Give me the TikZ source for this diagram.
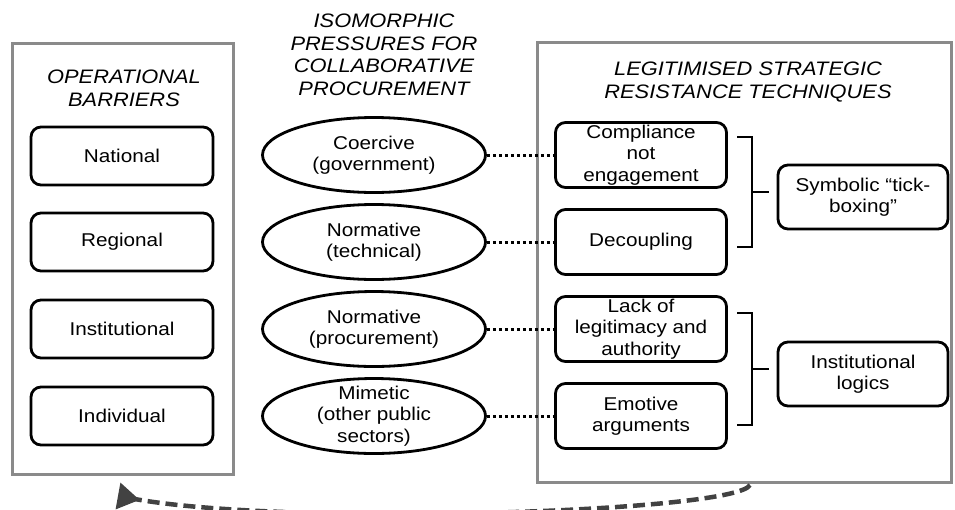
\documentclass[tikz,border=0pt]{standalone}
\usepackage{fontspec}
\setmainfont[FakeStretch=1.12]{Liberation Sans}
\usepackage{tikz}
\usetikzlibrary{arrows.meta,shapes.geometric}
\definecolor{framegray}{RGB}{138,138,138}
\definecolor{loopgray}{RGB}{66,66,66}

\tikzset{
  frame/.style={draw=framegray,line width=3pt,inner sep=0pt},
  heading/.style={anchor=north,inner sep=0pt,align=center,font=\fontsize{19.5}{22.5}\selectfont\itshape},
  barrier/.style={draw,line width=2.8pt,rounded corners=10pt,minimum width=182pt,minimum height=58pt,align=center,font=\fontsize{18.5}{21.5}\selectfont},
  technique/.style={barrier,minimum width=171pt,minimum height=65pt,inner sep=1pt},
  outcome/.style={barrier,minimum width=170pt,minimum height=64pt},
  pressure/.style={draw,ellipse,line width=2.8pt,minimum width=223pt,minimum height=75pt,inner xsep=0pt,inner ysep=-6pt,align=center,font=\fontsize{18.5}{21.5}\selectfont},
  dotline/.style={line width=3pt,dash pattern=on 3pt off 3pt},
  brk/.style={line width=2.8pt},
  loop/.style={draw=loopgray,line width=4.5pt,dash pattern=on 12pt off 6pt}
}

\begin{document}
\begin{tikzpicture}[x=1pt,y=-1pt]
  \useasboundingbox (0,0) rectangle (955,509);
  \clip (0,0) rectangle (955,509);
  % frames
  \node[frame,minimum width=221pt,minimum height=431pt] (opframe) at (122.5,258.5) {};
  \node[frame,minimum width=414pt,minimum height=440pt] (resframe) at (744,262) {};
  % headings
  \node[heading] (optitle) at (124,70) {OPERATIONAL\\BARRIERS};
  \node[heading] (isotitle) at (384,14) {ISOMORPHIC\\PRESSURES FOR\\COLLABORATIVE\\PROCUREMENT};
  \node[heading] (restitle) at (748,62) {LEGITIMISED STRATEGIC\\RESISTANCE TECHNIQUES};
  % operational barriers
  \foreach \n/\y/\t in {nat/156/National,reg/242/Regional,ins/329/Institutional,ind/416/Individual}{
    \node[barrier] (\n) at (122,\y) {\t};
  }
  % isomorphic pressures
  \foreach \n/\y/\t in {coe/155/{Coercive\\(government)},ntc/242/{Normative\\(technical)},npr/329/{Normative\\(procurement)},mim/416/{Mimetic\\(other public\\sectors)}}{
    \node[pressure] (\n) at (374,\y) {\t};
  }
  % resistance techniques
  \foreach \n/\y/\t in {cmp/155/{Compliance\\not\\engagement},dec/242/Decoupling,lck/329/{Lack of\\legitimacy and\\authority},emo/416/{Emotive\\arguments}}{
    \node[technique] (\n) at (641,\y) {\t};
  }
  \node[outcome] (sym) at (863,197) {Symbolic “tick-\\boxing”};
  \node[outcome] (inl) at (863,374) {Institutional\\logics};
  % dotted links
  \foreach \a/\b in {coe/cmp,ntc/dec,npr/lck,mim/emo}{
    \draw[dotline] (\a) -- (\b);
  }
  % brackets
  \coordinate (b1top) at (737,137);
  \coordinate (b1mid) at (752,192);
  \coordinate (b1bot) at (737,247);
  \draw[brk] (b1top) -| (b1mid) |- (b1bot);
  \draw[brk,shorten >=8pt] (b1mid) -- (b1mid -| sym.west);
  \coordinate (b2top) at (737,313);
  \coordinate (b2mid) at (752,369);
  \coordinate (b2bot) at (737,425);
  \draw[brk] (b2top) -| (b2mid) |- (b2bot);
  \draw[brk,shorten >=8pt] (b2mid) -- (b2mid -| inl.west);
  % feedback loop
  \coordinate (loopstart) at (750,485);
  \coordinate (loopend) at (118,496);
  \draw[loop,-{Triangle[reversed,length=22pt,width=26pt]}] (loopstart) .. controls (736,512) and (290,527) .. (loopend);
\end{tikzpicture}
\end{document}
